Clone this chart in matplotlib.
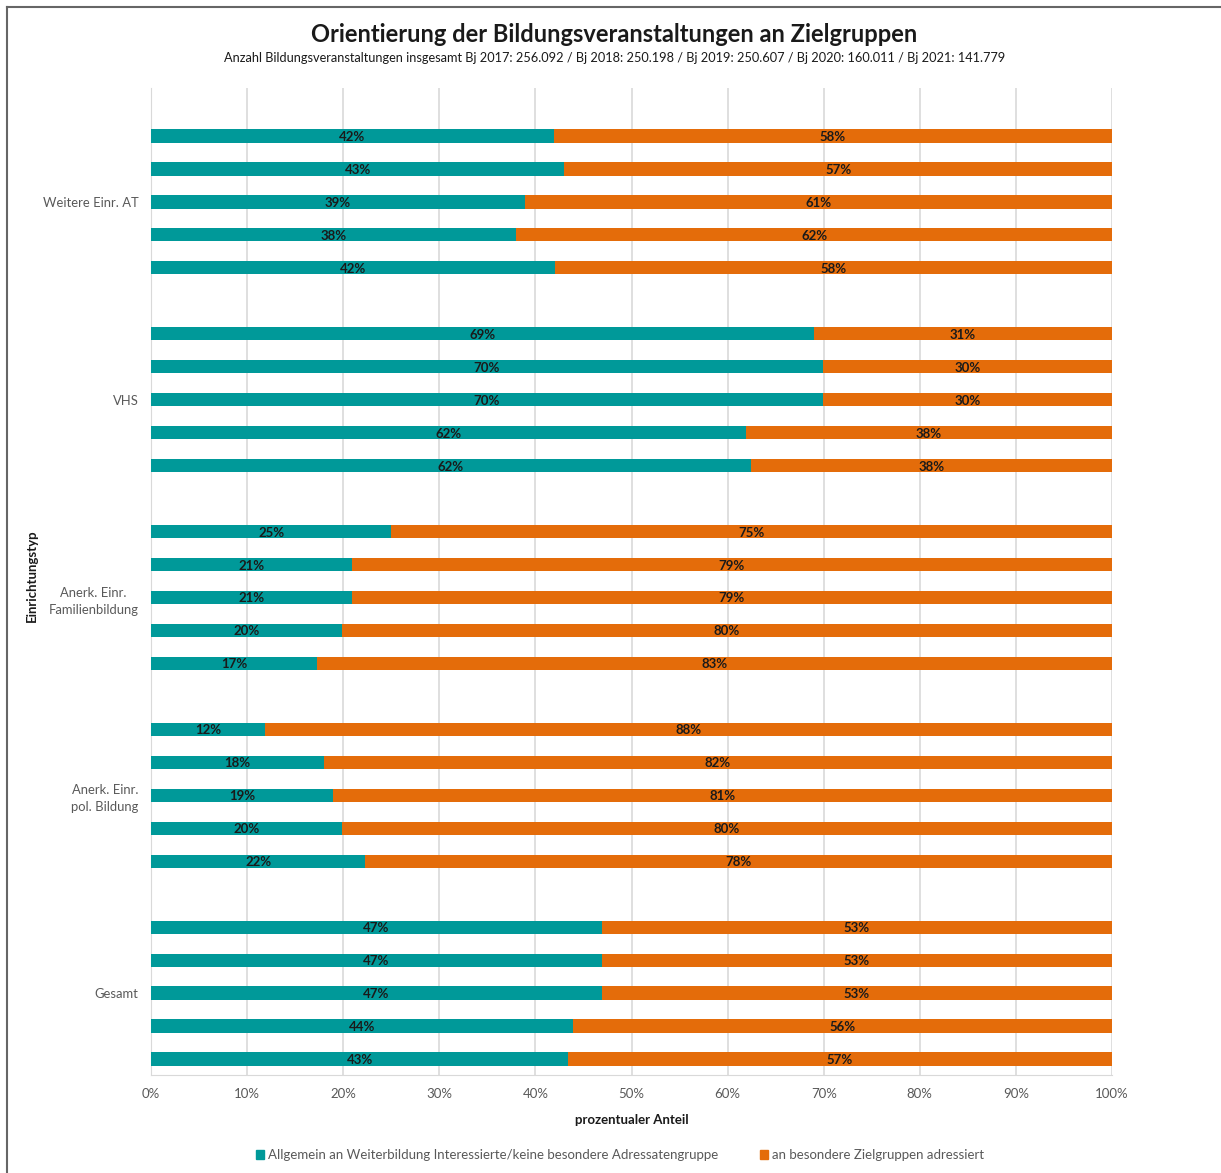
import numpy as np
import matplotlib.pyplot as plt
from matplotlib.lines import Line2D
from matplotlib.patches import Patch

plt.rcParams['font.family'] = ['Lato', 'DejaVu Sans']

# groups from top to bottom, five bars each (top to bottom)
groups = ['Weitere Einr. AT', 'VHS', 'Anerk. Einr.\nFamilienbildung',
          'Anerk. Einr.\npol. Bildung', 'Gesamt']
allgemein = [
    [42, 43, 39, 38, 42],
    [69, 70, 70, 62, 62],
    [25, 21, 21, 20, 17],
    [12, 18, 19, 20, 22],
    [47, 47, 47, 44, 43],
]
# exact bar lengths (percent)
allgemein_len = [
    [41.9, 43.0, 38.9, 38.0, 42.0],
    [69.0, 69.9, 69.9, 61.9, 62.4],
    [25.0, 20.9, 20.9, 19.9, 17.3],
    [11.9, 18.0, 18.9, 19.9, 22.3],
    [46.9, 46.9, 46.9, 43.9, 43.4],
]
zielgruppen = [
    [58, 57, 61, 62, 58],
    [31, 30, 30, 38, 38],
    [75, 79, 79, 80, 83],
    [88, 82, 81, 80, 78],
    [53, 53, 53, 56, 57],
]
ticks = ['0%', '10%', '20%', '30%', '40%', '50%', '60%', '70%', '80%', '90%', '100%']

teal = '#009999'
orange = '#E46C0A'
grey = '#595959'

fig = plt.figure(figsize=(12.21, 11.73), dpi=100)
ax = fig.add_axes([151 / 1221, 1 - 1075 / 1173, 961 / 1221, 987 / 1173])

ypos, centers = [], []
for g in range(len(groups)):
    ys = [g * 6 + i for i in range(5)]
    ypos.append(ys)
    centers.append(g * 6 + 2)

for g in range(len(groups)):
    for i, y in enumerate(ypos[g]):
        a = allgemein_len[g][i]
        ax.barh(y, a, height=0.4, color=teal, zorder=3)
        ax.barh(y, 100 - a, left=a, height=0.4, color=orange, zorder=3)
        ax.text(a / 2, y + 0.03, f'{allgemein[g][i]}%', ha='center', va='center',
                fontsize=9.5, fontweight='bold', color='#1a1a1a', zorder=4)
        ax.text(a + (100 - a) / 2, y + 0.03, f'{zielgruppen[g][i]}%', ha='center',
                va='center', fontsize=9.5, fontweight='bold', color='#1a1a1a', zorder=4)

ax.set_xlim(0, 100)
ax.set_ylim(28.485, -1.456)
ax.set_xticks(np.arange(0, 101, 10))
ax.set_xticklabels(ticks, fontsize=9.5, color=grey)
ax.set_yticks(centers)
ax.set_yticklabels(groups, fontsize=9.4, color=grey, ha='right', linespacing=1.5)
ax.tick_params(axis='both', length=0)
ax.tick_params(axis='x', pad=9)
ax.tick_params(axis='y', pad=9)
for lbl in ax.get_yticklabels():
    lbl.set_multialignment('center')

ax.grid(axis='x', color='#d9d9d9', linewidth=1.2, zorder=0)
for s in ['top', 'right']:
    ax.spines[s].set_visible(False)
ax.spines['left'].set_color('#d9d9d9')
ax.spines['bottom'].set_color('#d9d9d9')

ax.set_xlabel('prozentualer Anteil', fontsize=9.5, fontweight='bold', color='#1a1a1a')
ax.xaxis.set_label_coords(0.5, -0.04)
ax.set_ylabel('Einrichtungstyp', fontsize=9.5, fontweight='bold', color='#1a1a1a')
ax.yaxis.set_label_coords(-0.118, 0.506)

fig.text(0.503, 1 - 34 / 1173, 'Orientierung der Bildungsveranstaltungen an Zielgruppen',
         ha='center', va='center', fontsize=17, fontweight='bold', color='#1a1a1a')
fig.text(0.503, 1 - 58 / 1173,
         'Anzahl Bildungsveranstaltungen insgesamt Bj 2017: 256.092 / Bj 2018: 250.198 / '
         'Bj 2019: 250.607 / Bj 2020: 160.011 / Bj 2021: 141.779',
         ha='center', va='center', fontsize=9.15, color='#1a1a1a')

handles = [Patch(color=teal), Patch(color=orange)]
fig.legend(handles, ['Allgemein an Weiterbildung Interessierte/keine besondere Adressatengruppe',
                     'an besondere Zielgruppen adressiert'],
           loc='center', bbox_to_anchor=(0.508, 1 - 1155 / 1173), ncol=2, frameon=False,
           fontsize=9.5, handlelength=0.6, handleheight=0.6, handletextpad=0.3,
           columnspacing=3.2, labelcolor=grey)

# outer frame (left and top edges visible)
fig.add_artist(Line2D([7 / 1221, 7 / 1221], [0, 1 - 7 / 1173], transform=fig.transFigure,
                      color='#666666', linewidth=1.5))
fig.add_artist(Line2D([7 / 1221, 1], [1 - 7 / 1173, 1 - 7 / 1173], transform=fig.transFigure,
                      color='#666666', linewidth=1.5))

fig.savefig('out.png', dpi=100, facecolor='white')
